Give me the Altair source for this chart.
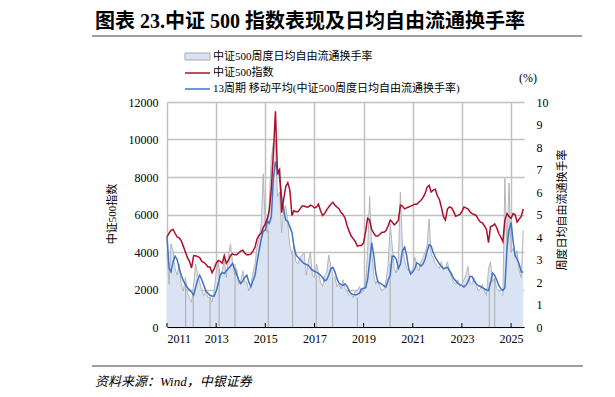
import altair as alt
import pandas as pd

FONT = "Liberation Serif, Noto Sans CJK SC"
W, H = 357, 225

# ---------------- data ----------------
months = pd.date_range("2011-01-01", periods=175, freq="MS").strftime("%Y-%m-%d").tolist()

csi500_index = [
    4800, 5000, 5150, 5200, 5000, 4800, 4750, 4600, 4300, 4000, 3700, 3500,   # 2011
    3150, 3800, 3800, 3750, 3700, 3500, 3450, 3350, 3200, 3200, 2900, 3100,   # 2012
    3400, 3550, 3500, 3400, 3800, 3400, 3550, 3800, 3900, 3850, 3850, 3950,   # 2013
    4050, 4100, 3950, 3850, 3850, 3900, 4050, 4250, 4700, 4900, 5000, 5300,   # 2014
    5500, 5800, 6200, 7400, 9300, 11500, 8200, 8400, 6100, 6800, 7500, 7700, # 2015
    7300, 5950, 6200, 6150, 6150, 6300, 6450, 6450, 6400, 6400, 6500, 6450,   # 2016
    6350, 6400, 6550, 6200, 5950, 6050, 6250, 6400, 6550, 6650, 6500, 6400,   # 2017
    6300, 6100, 6000, 5800, 5400, 5100, 4850, 4700, 4550, 4300, 4350, 4350,   # 2018
    4500, 5100, 5800, 5700, 5200, 5000, 4850, 4850, 4950, 5050, 5050, 5150,   # 2019
    5400, 5700, 5600, 5450, 5550, 5700, 6500, 6450, 6300, 6350, 6400, 6450,   # 2020
    6500, 6550, 6550, 6650, 6750, 6900, 7100, 7450, 7550, 7200, 7300, 7350,   # 2021
    7000, 6800, 6400, 5900, 5700, 6300, 6400, 6350, 6150, 5900, 5950, 6000,   # 2022
    6150, 6400, 6350, 6300, 6150, 6050, 6000, 5950, 5750, 5600, 5550, 5400,   # 2023
    5200, 4500, 5350, 5400, 5500, 5300, 5000, 4800, 4550, 5700, 6050, 5900,   # 2024
    5800, 6050, 6000, 5600, 5750, 5900, 6300,                                 # 2025
]

turnover = [
    3.3, 1.9, 3.7, 3.4, 2.6, 2.3, 2.8, 1.9, 1.6, 2.2, 1.5, 1.3,   # 2011
    1.1, 1.9, 2.8, 2.3, 2.0, 1.6, 1.4, 1.6, 1.3, 1.3, 1.1, 1.6,   # 2012
    2.4, 2.9, 2.2, 2.5, 3.0, 2.2, 3.1, 3.7, 2.9, 2.3, 2.6, 1.9,   # 2013
    2.0, 2.5, 2.0, 2.0, 1.6, 1.9, 2.4, 2.8, 3.6, 3.9, 4.6, 6.8,   # 2014
    4.5, 4.2, 5.6, 7.5, 8.2, 8.3, 5.8, 6.0, 4.2, 5.2, 5.4, 4.6,   # 2015
    3.6, 3.2, 3.6, 2.9, 2.8, 3.1, 3.2, 3.3, 2.3, 2.9, 3.3, 2.3,   # 2016
    2.2, 2.8, 2.4, 2.0, 1.8, 2.3, 2.4, 3.2, 2.7, 2.3, 2.2, 1.8,   # 2017
    1.9, 1.7, 2.1, 1.7, 1.6, 1.4, 1.5, 1.3, 1.6, 1.6, 1.8, 1.5,   # 2018
    1.6, 2.0, 3.4, 5.8, 3.4, 2.3, 1.9, 2.1, 1.8, 1.6, 1.7, 2.1,   # 2019
    2.8, 4.6, 3.6, 2.6, 2.4, 3.0, 6.0, 3.6, 3.0, 2.6, 2.5, 2.4,   # 2020
    2.6, 3.1, 2.7, 2.5, 2.9, 3.1, 3.3, 3.6, 4.8, 3.2, 3.1, 2.8,   # 2021
    2.7, 2.6, 2.9, 2.5, 2.6, 2.9, 2.5, 2.2, 2.0, 1.9, 2.1, 1.8,   # 2022
    1.9, 2.1, 2.3, 2.7, 2.0, 1.9, 2.2, 1.9, 1.6, 1.7, 1.9, 1.6,   # 2023
    1.4, 2.6, 2.9, 2.0, 2.2, 1.7, 1.6, 1.5, 1.4, 6.6, 3.4, 6.4,   # 2024
    3.3, 3.5, 3.1, 3.4, 2.5, 2.2, 4.3,                            # 2025
]

turnover_ma13 = [
    4.0, 2.6, 2.45, 2.9, 3.15, 3.0, 2.6, 2.3, 2.05, 1.9, 1.75, 1.65,      # 2011
    1.55, 1.42, 1.75, 2.1, 2.3, 2.1, 1.85, 1.6, 1.5, 1.41, 1.38, 1.37,    # 2012
    1.6, 1.93, 2.3, 2.42, 2.38, 2.5, 2.6, 2.7, 2.82, 2.6, 2.35, 2.1,      # 2013
    1.93, 2.05, 2.2, 2.3, 2.0, 1.78, 2.05, 2.3, 2.9, 3.4, 3.9, 4.25,      # 2014
    4.3, 4.7, 4.6, 4.9, 6.6, 7.35, 7.0, 6.7, 5.8, 5.2, 4.75, 4.7,         # 2015
    4.45, 4.2, 3.6, 3.2, 3.1, 3.0, 2.9, 2.82, 2.78, 2.74, 2.62, 2.52,     # 2016
    2.48, 2.43, 2.38, 2.3, 2.2, 2.05, 2.1, 2.3, 2.6, 2.65, 2.45, 2.15,    # 2017
    1.95, 1.88, 1.85, 1.92, 1.8, 1.6, 1.48, 1.45, 1.42, 1.45, 1.5, 1.68,  # 2018
    1.72, 1.75, 2.1, 2.9, 3.75, 3.2, 2.4, 2.0, 1.95, 1.9, 1.82, 1.78,     # 2019
    2.1, 2.3, 3.15, 3.15, 3.0, 2.6, 2.8, 3.4, 3.55, 3.2, 2.6, 2.35,       # 2020
    2.45, 2.6, 2.85, 2.8, 2.7, 2.8, 3.0, 3.35, 3.65, 3.6, 3.3, 3.1,       # 2021
    2.95, 2.8, 2.7, 2.6, 2.62, 2.65, 2.5, 2.35, 2.15, 2.05, 1.95, 1.88,   # 2022
    1.85, 1.78, 1.85, 2.0, 2.25, 2.25, 2.05, 1.92, 1.85, 1.8, 1.75, 1.7,  # 2023
    1.65, 1.62, 1.95, 2.4, 2.3, 2.1, 1.85, 1.7, 1.63, 1.75, 3.5, 4.3,     # 2024
    4.65, 3.8, 3.2, 3.0, 2.8, 2.45, 2.45,                                 # 2025
]

# holiday weeks where the weekly turnover drops to ~0
holiday_weeks = ["2011-10-05", "2012-01-26", "2012-10-01", "2013-02-14", "2013-10-08",
                 "2015-02-15", "2016-02-12", "2017-01-27", "2017-09-28", "2018-10-02",
                 "2020-01-30", "2024-02-12", "2024-05-03"]
holiday_levels = [2.0, 1.5, 1.4, 2.6, 2.8, 4.3, 3.2, 2.3, 2.2, 1.3, 2.8, 2.0, 2.2]

x_tick_years = [2011, 2013, 2015, 2017, 2019, 2021, 2023, 2025]
left_ticks = [0, 2000, 4000, 6000, 8000, 10000, 12000]
right_ticks = [0, 1, 2, 3, 4, 5, 6, 7, 8, 9, 10]

title_text = "图表 23.中证 500 指数表现及日均自由流通换手率"
legend_labels = ["中证500周度日均自由流通换手率", "中证500指数",
                 "13周期 移动平均(中证500周度日均自由流通换手率)"]
source_text = "资料来源：Wind，中银证券"

# ---------------- chart ----------------
df = pd.DataFrame({"date": months, "idx": csi500_index, "to": turnover, "ma": turnover_ma13})
hol = pd.DataFrame({"date": holiday_weeks, "lvl": holiday_levels, "zero": 0})
ticks_df = pd.DataFrame({"date": [f"{y}-01-01" for y in x_tick_years]})
one = pd.DataFrame({"a": [0]})

GRID = "#c0c0c0"
xscale = alt.Scale(type="utc", domain=[alt.DateTime(year=2011, month=1, date=1, utc=True),
                                       alt.DateTime(year=2025, month=7, date=12, utc=True)])
xaxis = alt.Axis(values=[alt.DateTime(year=y, month=1, date=1, utc=True) for y in x_tick_years],
                 labelExpr="utcFormat(datum.value, '%Y')", grid=True, gridColor=GRID,
                 gridWidth=1.5, domainColor="black", domainWidth=1, ticks=False,
                 labelFont=FONT, labelFontSize=12, labelColor="black", labelPadding=6,
                 title=None, labelOverlap=False)
X = alt.X("date:T", scale=xscale, axis=xaxis)

rscale = alt.Scale(domain=[0, 10], nice=False, zero=True)
raxis = alt.Axis(orient="right", values=right_ticks, grid=False, domain=False, ticks=False,
                 labelFont=FONT, labelFontSize=12, labelColor="black", labelPadding=12,
                 title=None, format="d")
lscale = alt.Scale(domain=[0, 12000], nice=False)
laxis = alt.Axis(orient="left", values=left_ticks, grid=True, gridColor=GRID, gridWidth=1.5,
                 domain=False, ticks=False, labelFont=FONT, labelFontSize=12,
                 labelColor="black", labelPadding=9, title=None, format="d")

area = alt.Chart(df).mark_area(color="#dae3f3", opacity=1).encode(
    x=X, y=alt.Y("to:Q", scale=rscale, axis=raxis))
grayline = alt.Chart(df).mark_line(color="#b0b0b0", strokeWidth=0.9).encode(
    x=X, y=alt.Y("to:Q", scale=rscale, axis=raxis))
drops = alt.Chart(hol).mark_rule(color="#a9a9a9", strokeWidth=1).encode(
    x=X, y=alt.Y("lvl:Q", scale=rscale, axis=raxis), y2="zero:Q")
maline = alt.Chart(df).mark_line(color="#4472c4", strokeWidth=1.5).encode(
    x=X, y=alt.Y("ma:Q", scale=rscale, axis=raxis))
right_group = alt.layer(area, grayline, drops, maline)

redline = alt.Chart(df).mark_line(color="#ad0f2b", strokeWidth=1.5).encode(
    x=X, y=alt.Y("idx:Q", scale=lscale, axis=laxis))

xticks = alt.Chart(ticks_df).mark_rule(color="black", strokeWidth=1).encode(
    x=X, y=alt.value(H), y2=alt.value(H - 4))

def txt(s, x, y, size=11, **kw):
    return alt.Chart(one).mark_text(text=s, font=FONT, fontSize=size, color="black", **kw).encode(
        x=alt.value(x), y=alt.value(y))

deco = [
    txt(title_text, -72, -80, 20, fontWeight="bold", align="left", baseline="middle"),
    alt.Chart(one).mark_rule(color="#404040", strokeWidth=1.2).encode(
        x=alt.value(-75), x2=alt.value(415), y=alt.value(-66)),
    alt.Chart(one).mark_rule(color="#404040", strokeWidth=1.2).encode(
        x=alt.value(-75), x2=alt.value(416), y=alt.value(264)),
    txt(source_text, -72, 280, 13, fontStyle="italic", align="left", baseline="middle"),
    # legend
    alt.Chart(one).mark_rect(fill="#dae3f3", stroke="#a9a9a9", strokeWidth=1).encode(
        x=alt.value(18), x2=alt.value(43), y=alt.value(-49), y2=alt.value(-42)),
    alt.Chart(one).mark_rule(color="#ad0f2b", strokeWidth=1.5).encode(
        x=alt.value(18), x2=alt.value(43), y=alt.value(-29)),
    alt.Chart(one).mark_rule(color="#4472c4", strokeWidth=1.5).encode(
        x=alt.value(18), x2=alt.value(43), y=alt.value(-13)),
    txt(legend_labels[0], 46, -45, 11, align="left", baseline="middle"),
    txt(legend_labels[1], 46, -29, 11, align="left", baseline="middle"),
    txt(legend_labels[2], 46, -13, 11, align="left", baseline="middle"),
    txt("(%)", 361, -24, 12, align="center", baseline="middle"),
    txt("中证500指数", -54, 112, 11, angle=270, align="center", baseline="middle"),
    txt("周度日均自由流通换手率", 396, 108, 11, angle=270, align="center", baseline="middle"),
]

main = alt.layer(right_group, redline).resolve_scale(y="independent")
chart = alt.layer(main, xticks, *deco).properties(
    width=W, height=H,
    padding={"left": 159, "top": 94, "right": 83, "bottom": 62},
    autosize=alt.AutoSizeParams(type="none"),
).configure_view(stroke=None)

chart.save("out.html", embed_options={"renderer": "svg", "actions": False})
